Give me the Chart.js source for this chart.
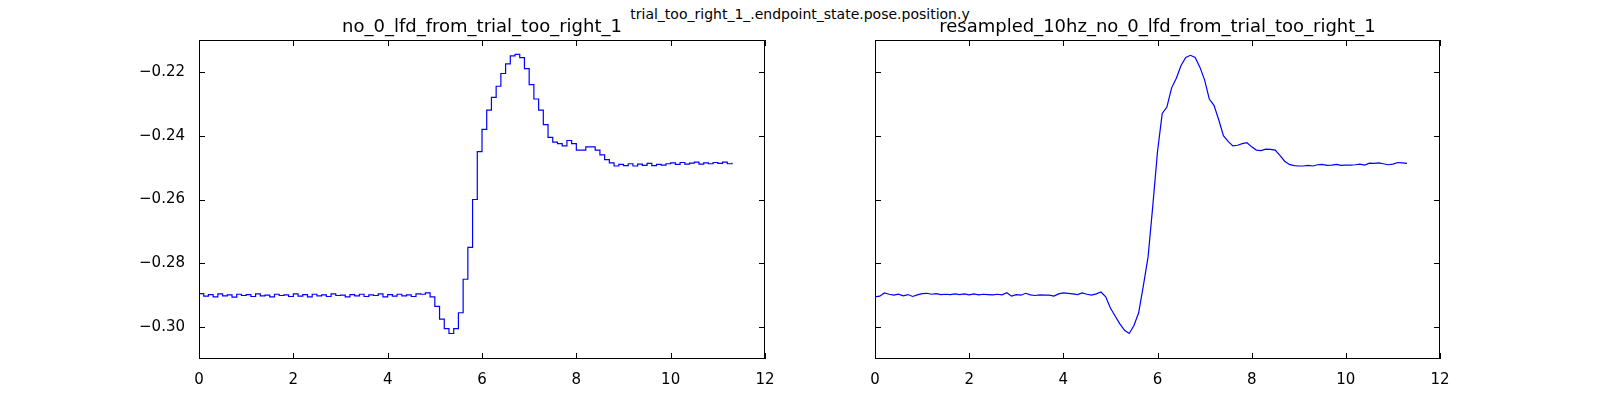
<!DOCTYPE html>
<html><head><meta charset="utf-8">
<script src="https://cdn.jsdelivr.net/npm/chart.js@4"></script>
<style>
body{margin:0;background:#fff;width:1600px;height:400px;overflow:hidden;position:relative;font-family:"DejaVu Sans"}
canvas{position:absolute;top:0}
#sup{position:absolute;top:6px;left:0;width:1600px;text-align:center;font-size:14px}
</style></head><body>
<div id="sup">trial_too_right_1_.endpoint_state.pose.position.y</div>
<canvas id="c1" width="800" height="400" style="left:0"></canvas>
<canvas id="c2" width="800" height="400" style="left:800px"></canvas>
<script>
var dt = 0.1;
var xTicks = [0, 2, 4, 6, 8, 10, 12];
var yTicks = [-0.30, -0.28, -0.26, -0.24, -0.22];
var titles = ["no_0_lfd_from_trial_too_right_1", "resampled_10hz_no_0_lfd_from_trial_too_right_1"];

var rawY = [
-0.2895,-0.2903,-0.2898,-0.2905,-0.2896,-0.2902,-0.2899,-0.2906,-0.2897,-0.2901,
-0.2898,-0.2904,-0.2896,-0.2902,-0.2900,-0.2905,-0.2897,-0.2901,-0.2899,-0.2904,
-0.2896,-0.2903,-0.2898,-0.2905,-0.2897,-0.2902,-0.2899,-0.2904,-0.2896,-0.2901,
-0.2900,-0.2905,-0.2898,-0.2902,-0.2897,-0.2904,-0.2899,-0.2901,-0.2896,-0.2905,
-0.2898,-0.2903,-0.2897,-0.2902,-0.2899,-0.2904,-0.2896,
-0.2897,-0.2893,-0.2905,-0.2935,-0.2975,-0.3005,-0.3020,-0.3005,-0.2955,-0.2850,
-0.2750,-0.2600,-0.2450,-0.2380,-0.2320,-0.2280,-0.2245,-0.2205,-0.2175,-0.2150,
-0.2145,-0.2155,-0.2190,-0.2240,-0.2285,-0.2320,-0.2365,-0.2405,-0.2420,-0.2425,
-0.2432,-0.2415,-0.2425,-0.2445,-0.2445,-0.2435,-0.2435,-0.2445,-0.2460,-0.2475,
-0.2485,-0.2495,-0.2490,
-0.2494,-0.2488,-0.2495,-0.2489,-0.2493,-0.2487,-0.2494,-0.2490,-0.2492,-0.2488,
-0.2485,-0.2490,-0.2484,-0.2489,-0.2486,-0.2483,-0.2489,-0.2485,-0.2488,-0.2484,
-0.2487,-0.2483,-0.2488,-0.2485
];

var resY = [
-0.2905,-0.2903,-0.2893,-0.2897,-0.2900,-0.2897,-0.2902,-0.2898,-0.2904,-0.2899,
-0.2895,-0.2894,-0.2897,-0.2895,-0.2898,-0.2897,-0.2898,-0.2896,-0.2898,-0.2896,
-0.2899,-0.2896,-0.2899,-0.2897,-0.2898,-0.2899,-0.2897,-0.2899,-0.2892,-0.2903,
-0.2898,-0.2900,-0.2894,-0.2899,-0.2901,-0.2899,-0.2900,-0.2900,-0.2903,-0.2896,
-0.2893,-0.2894,-0.2896,-0.2898,-0.2893,-0.2897,-0.2900,
-0.2896,-0.2890,-0.2905,-0.2940,-0.2965,-0.2990,-0.3010,-0.3020,-0.2995,-0.2955,
-0.2870,-0.2780,-0.2620,-0.2450,-0.2330,-0.2310,-0.2250,-0.2220,-0.2180,-0.2155,
-0.2148,-0.2155,-0.2185,-0.2225,-0.2285,-0.2305,-0.2350,-0.2400,-0.2418,-0.2432,
-0.2430,-0.2425,-0.2422,-0.2435,-0.2445,-0.2447,-0.2442,-0.2443,-0.2445,-0.2462,
-0.2480,-0.2490,-0.2494,
-0.2495,-0.2495,-0.2493,-0.2495,-0.2491,-0.2490,-0.2493,-0.2492,-0.2490,-0.2493,
-0.2492,-0.2492,-0.2491,-0.2489,-0.2492,-0.2486,-0.2487,-0.2485,-0.2488,-0.2491,
-0.2489,-0.2484,-0.2485,-0.2487
];

function toPoints(ys) {
    return ys.map(function(v, i){ return {x: Math.round(i * dt * 10) / 10, y: v}; });
}

var frame = {
    id: "frame",
    afterDraw: function(chart, args, opts) {
        var ctx = chart.ctx, a = chart.chartArea, xs = chart.scales.x, ys = chart.scales.y;
        ctx.save();
        ctx.strokeStyle = "#000";
        ctx.lineWidth = 1;
        ctx.strokeRect(a.left + 0.5, a.top + 0.5, a.right - a.left - 1, a.bottom - a.top - 1);
        ctx.beginPath();
        xTicks.forEach(function(t){
            var px = Math.round(xs.getPixelForValue(t)) + 0.5;
            ctx.moveTo(px, a.bottom); ctx.lineTo(px, a.bottom - 6);
            ctx.moveTo(px, a.top); ctx.lineTo(px, a.top + 6);
        });
        yTicks.forEach(function(t){
            var py = Math.round(ys.getPixelForValue(t)) + 0.5;
            ctx.moveTo(a.left, py); ctx.lineTo(a.left + 6, py);
            ctx.moveTo(a.right, py); ctx.lineTo(a.right - 6, py);
        });
        ctx.stroke();
        ctx.fillStyle = "#000";
        ctx.font = "18px 'DejaVu Sans'";
        ctx.textAlign = "center";
        ctx.textBaseline = "bottom";
        ctx.fillText(opts.text, (a.left + a.right) / 2, a.top - 4);
        ctx.restore();
    }
};

function makeChart(id, ys, title, padLeft, padRight, yw, showY) {
    new Chart(document.getElementById(id), {
        type: "line",
        data: {datasets: [{data: toPoints(ys), borderColor: "#0000ff", borderWidth: 1.2,
            pointRadius: 0, tension: 0, stepped: id === "c1"}]},
        plugins: [frame],
        options: {
            responsive: false, animation: false,
            layout: {padding: {left: padLeft, right: padRight, top: 40, bottom: 0}},
            plugins: {legend: {display: false}, tooltip: {enabled: false}, frame: {text: title}},
            scales: {
                x: {type: "linear", min: 0, max: 12,
                    afterBuildTicks: function(s){ s.ticks = xTicks.map(function(v){ return {value: v}; }); },
                    afterFit: function(s){ s.height = 41; },
                    grid: {display: false}, border: {display: false},
                    ticks: {color: "#000", font: {family: "DejaVu Sans", size: 15}, padding: 4, maxRotation: 0,
                        callback: function(v){ return v; }}},
                y: {min: -0.31, max: -0.21,
                    afterBuildTicks: function(s){ s.ticks = yTicks.map(function(v){ return {value: v}; }); },
                    afterFit: function(s){ s.width = yw; },
                    grid: {display: false}, border: {display: false},
                    ticks: {display: showY, color: "#000", font: {family: "DejaVu Sans", size: 15}, padding: 6,
                        callback: function(v){ return "\u2212" + Math.abs(v).toFixed(2); }}}
            }
        }
    });
}

makeChart("c1", rawY, titles[0], 139, 35, 60, true);
makeChart("c2", resY, titles[1], 65, 160, 10, false);
</script>
</body></html>
